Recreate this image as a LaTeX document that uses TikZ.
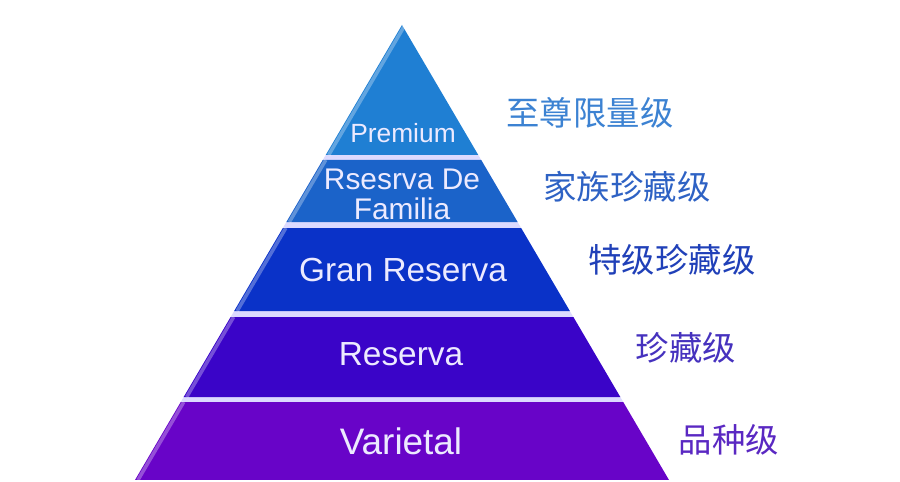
\documentclass[tikz,border=0pt]{standalone}
\usepackage{fontspec}
\setmainfont{Liberation Sans}
\newfontfamily\cjk{Noto Sans CJK SC}
\usetikzlibrary{calc}

\definecolor{premcol}{HTML}{1F7FD3}
\definecolor{famcol}{HTML}{1B63C9}
\definecolor{grancol}{HTML}{0A32C8}
\definecolor{rescol}{HTML}{3A04C8}
\definecolor{varcol}{HTML}{6804C8}
\definecolor{sepcol}{HTML}{DCDAFF}
\definecolor{tiertext}{HTML}{ECEAFF}
\definecolor{cnprem}{HTML}{3C82D2}
\definecolor{cnfam}{HTML}{2E62C4}
\definecolor{cngran}{HTML}{2040B8}
\definecolor{cnres}{HTML}{4632BE}
\definecolor{cnvar}{HTML}{5A28C2}

\tikzset{
  tiername/.style={text=tiertext, font=\fontsize{#1}{#1}\selectfont, inner sep=0pt},
  cnlabel/.style={text=#1, font=\cjk\fontsize{19}{19}\selectfont, inner sep=0pt}
}

% one tier of the pyramid, between two fractions of the height
\newcommand{\tier}[3]{%
  \fill [#3] ($(apex)!#1!(bl)$) -- ($(apex)!#1!(br)$) -- ($(apex)!#2!(br)$) -- ($(apex)!#2!(bl)$) -- cycle;
  \draw [white, opacity=0.3, line width=2pt] ($(apex)!#1!(bl)+(3,0)$) -- ($(apex)!#2!(bl)+(3,0)$);}

\begin{document}
\begin{tikzpicture}[x=0.02cm,y=-0.02cm]
\useasboundingbox (0,0) rectangle (900,482);
\coordinate (apex) at (402,25);
\coordinate (bl) at (135,480);
\coordinate (br) at (669,480);

% separators
\fill [sepcol] ($(apex)!0.2857!(bl)$) -- ($(apex)!0.2857!(br)$) -- ($(apex)!0.8286!(br)$) -- ($(apex)!0.8286!(bl)$) -- cycle;

% tiers
\tier{0}{0.2857}{premcol}
\tier{0.2967}{0.4330}{famcol}
\tier{0.4462}{0.6286}{grancol}
\tier{0.6418}{0.8176}{rescol}
\tier{0.8286}{1}{varcol}

% tier names
\node [tiername=15] (premium) at (403,133) {Premium};
\node [tiername=17, align=center] (familia) at (402,194) {Rsesrva De\\Familia};
\node [tiername=19] (gran) at (403,270) {Gran Reserva};
\node [tiername=19] (reserva) at (401,354) {Reserva};
\node [tiername=21] (varietal) at (401,441) {Varietal};

% chinese labels
\node [cnlabel=cnprem] (zhizun) at (590,113) {至尊限量级};
\node [cnlabel=cnfam] (jiazu) at (627,187) {家族珍藏级};
\node [cnlabel=cngran] (teji) at (672,260) {特级珍藏级};
\node [cnlabel=cnres] (zhencang) at (686,348) {珍藏级};
\node [cnlabel=cnvar] (pinzhong) at (729,440) {品种级};
\end{tikzpicture}
\end{document}
